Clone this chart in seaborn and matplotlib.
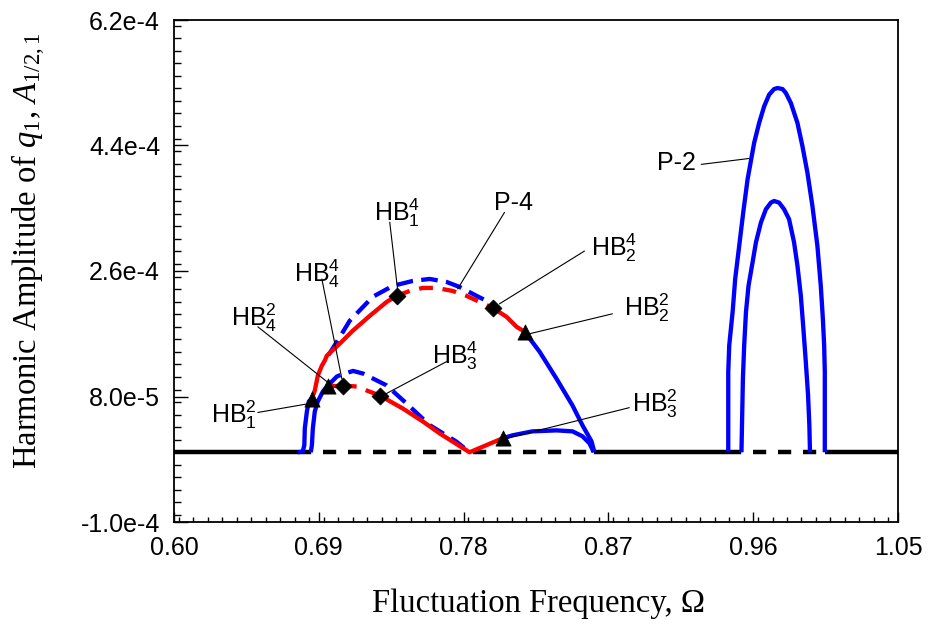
import numpy as np
import matplotlib
matplotlib.use("Agg")
import matplotlib.pyplot as plt
from matplotlib.ticker import MultipleLocator, FixedLocator
import seaborn as sns

# ---------------- data (y values in units of 1e-4) ----------------
x_ticks = [0.60, 0.69, 0.78, 0.87, 0.96, 1.05]
x_ticklabels = ["0.60", "0.69", "0.78", "0.87", "0.96", "1.05"]
y_ticks = [-1.0e-4, 0.8e-4, 2.6e-4, 4.4e-4, 6.2e-4]
y_ticklabels = ["-1.0e-4", "8.0e-5", "2.6e-4", "4.4e-4", "6.2e-4"]

# trivial solution (y = 0): solid / dashed pieces
base_solid = [(0.60, 0.6770), (0.8613, 0.9445), (1.0045, 1.05)]
base_dashed = [(0.6770, 0.8613), (0.9445, 1.0045)]

# P-4 outer blue leg (solid) up to HB1^2
p4_leg1_x = [0.6770, 0.6800, 0.6810, 0.6813, 0.6826, 0.6838, 0.6857]
p4_leg1_y = [0.0, 0.01, 0.10, 0.343, 0.586, 0.729, 0.771]
# upper red solid: HB1^2 -> HB1^4
red_up1_x = [0.6857, 0.6875, 0.6894, 0.6919, 0.6937, 0.6950, 0.7030, 0.7111, 0.7217, 0.7322, 0.7384]
red_up1_y = [0.771, 0.886, 1.100, 1.243, 1.314, 1.386, 1.557, 1.743, 1.957, 2.157, 2.243]
# upper red dashed: HB1^4 -> HB2^4
red_up2_x = [0.7384, 0.7465, 0.7546, 0.7632, 0.7732, 0.7819, 0.7899, 0.7980]
red_up2_y = [2.243, 2.314, 2.357, 2.357, 2.314, 2.243, 2.157, 2.071]
# upper red solid: HB2^4 -> HB2^2
red_up3_x = [0.7980, 0.8067, 0.8129, 0.8179]
red_up3_y = [2.071, 1.943, 1.800, 1.729]
# blue solid descending from HB2^2 to zero
blue_down_x = [0.8179, 0.8272, 0.8377, 0.8477, 0.8539, 0.8595, 0.8613]
blue_down_y = [1.729, 1.443, 1.057, 0.671, 0.386, 0.157, 0.0]
# upper blue dashed branch
blue_up_dash_x = [0.6962, 0.7030, 0.7092, 0.7235, 0.7359, 0.7483, 0.7589, 0.7694, 0.7775, 0.7881, 0.7943, 0.7980]
blue_up_dash_y = [1.400, 1.650, 1.886, 2.229, 2.386, 2.457, 2.486, 2.443, 2.371, 2.243, 2.171, 2.071]

# inner blue leg (solid) up to HB4^2
p4_leg2_x = [0.6850, 0.6857, 0.6863, 0.6875, 0.6894, 0.6925, 0.6956]
p4_leg2_y = [0.0, 0.10, 0.343, 0.586, 0.729, 0.871, 0.957]
# lower red solid HB4^2 -> HB4^4
red_lo1_x = [0.6956, 0.7049]
red_lo1_y = [0.957, 0.957]
# lower red dashed HB4^4 -> HB3^4
red_lo2_x = [0.7049, 0.7136, 0.7198, 0.7279]
red_lo2_y = [0.957, 0.943, 0.886, 0.814]
# lower red solid HB3^4 -> zero -> HB3^2
red_lo3_x = [0.7279, 0.7421, 0.7546, 0.7651, 0.7837, 0.8042]
red_lo3_y = [0.814, 0.629, 0.443, 0.271, 0.0, 0.200]
# lower blue dashed branch
blue_lo_dash_x = [0.6956, 0.7012, 0.7030, 0.7113, 0.7175, 0.7320, 0.7423, 0.7589, 0.7755, 0.7837]
blue_lo_dash_y = [0.957, 1.086, 1.104, 1.167, 1.129, 0.961, 0.747, 0.390, 0.153, 0.0]
# blue solid from HB3^2 to zero
blue_hb32_x = [0.8042, 0.8104, 0.8228, 0.8377, 0.8477, 0.8539, 0.8582, 0.8601, 0.8607]
blue_hb32_y = [0.200, 0.243, 0.300, 0.314, 0.300, 0.229, 0.129, 0.040, 0.0]

# P-2 arches
p2_outer_x = [0.9445, 0.9445, 0.9451, 0.9472, 0.9488, 0.9513, 0.9538, 0.9565, 0.9606, 0.9637,
              0.9668, 0.9699, 0.9730, 0.9751, 0.9782, 0.9803, 0.9834, 0.9875, 0.9906, 0.9937,
              0.9968, 0.9999, 1.0020, 1.0033, 1.0041, 1.0045, 1.0045]
p2_outer_y = [0.0, 1.153, 1.533, 2.010, 2.486, 2.961, 3.439, 3.914, 4.439, 4.724,
              4.961, 5.129, 5.210, 5.224, 5.210, 5.153, 5.010, 4.724, 4.390, 4.010,
              3.533, 2.961, 2.390, 1.914, 1.533, 1.153, 0.0]
p2_inner_x = [0.9527, 0.9532, 0.9536, 0.9544, 0.9555, 0.9571, 0.9596, 0.9617, 0.9648, 0.9679,
              0.9710, 0.9730, 0.9761, 0.9792, 0.9823, 0.9854, 0.9875, 0.9896, 0.9912, 0.9927,
              0.9941, 0.9949, 0.9953]
p2_inner_y = [0.0, 0.581, 1.057, 1.533, 2.010, 2.390, 2.724, 3.010, 3.296, 3.486,
              3.581, 3.604, 3.581, 3.486, 3.343, 3.010, 2.676, 2.247, 1.771, 1.296,
              0.819, 0.390, 0.0]

# bifurcation points
tri_x = [0.6857, 0.6956, 0.8179, 0.8042]
tri_y = [0.771, 0.957, 1.729, 0.200]
dia_x = [0.7384, 0.7980, 0.7049, 0.7279]
dia_y = [2.243, 2.071, 0.957, 0.814]

# annotations: label, text pos, ha, line start, line end
ann_labels = ["HB$_1^2$", "HB$_4^2$", "HB$_4^4$", "HB$_1^4$", "P-4", "HB$_2^4$",
              "HB$_2^2$", "HB$_3^2$", "HB$_3^4$", "P-2"]
ann_text_x = [0.6515, 0.6639, 0.7030, 0.7533, 0.7992, 0.8594, 0.8799, 0.8849, 0.7601, 0.9246]
ann_text_y = [0.543, 1.929, 2.557, 3.430, 3.580, 2.929, 2.071, 0.690, 1.386, 4.143]
ann_ha = ["right", "right", "right", "right", "left", "left", "left", "left", "left", "right"]
ann_from_x = [0.6521, 0.6521, 0.6919, 0.7341, 0.8054, 0.8551, 0.8725, 0.8830, 0.7694, 0.9277]
ann_from_y = [0.571, 1.800, 2.486, 3.300, 3.440, 2.886, 1.986, 0.640, 1.300, 4.129]
ann_to_x = [0.6844, 0.6950, 0.7043, 0.7390, 0.7763, 0.8023, 0.8210, 0.8067, 0.7297, 0.9575]
ann_to_y = [0.700, 1.014, 1.057, 2.329, 2.343, 2.129, 1.700, 0.200, 0.814, 4.214]

S = 1e-4

# ---------------- style ----------------
sns.set_theme(style="ticks")
plt.rcParams["font.family"] = ["Liberation Sans", "DejaVu Sans"]
plt.rcParams["mathtext.fontset"] = "custom"
plt.rcParams["mathtext.rm"] = "Liberation Sans"
plt.rcParams["mathtext.it"] = "Liberation Serif:italic"
plt.rcParams["mathtext.sf"] = "Liberation Serif"
plt.rcParams["lines.scale_dashes"] = False
plt.rcParams["lines.solid_capstyle"] = "butt"
plt.rcParams["lines.solid_joinstyle"] = "round"
plt.rcParams["lines.dash_joinstyle"] = "round"

fig = plt.figure(figsize=(9.32, 6.31), dpi=100)
ax = fig.add_axes([174 / 932, 1 - 522 / 631, 724 / 932, 502 / 631])

BLUE = "#0000FF"
RED = "#FF0000"
LW = 3.1
BLUE_DASH = (0, (12, 6))
RED_DASH = (0, (10, 7))
BLACK_DASH = (0, (9.5, 8.5))


def line(x, y, color, ls="-", lw=LW, z=2):
    sns.lineplot(x=np.asarray(x), y=np.asarray(y) * S, color=color, linewidth=lw,
                 linestyle=ls, sort=False, estimator=None, ax=ax, legend=False, zorder=z)


for a, b in base_solid:
    line([a, b], [0, 0], "black", "-", 3.2, 1)
for a, b in base_dashed:
    line([a, b], [0, 0], "black", BLACK_DASH, 3.2, 1)

line(p4_leg1_x, p4_leg1_y, BLUE)
line(p4_leg2_x, p4_leg2_y, BLUE)
line(blue_up_dash_x, blue_up_dash_y, BLUE, BLUE_DASH)
line(blue_lo_dash_x, blue_lo_dash_y, BLUE, BLUE_DASH)
line(blue_down_x, blue_down_y, BLUE)
line(blue_hb32_x, blue_hb32_y, BLUE)
line(red_up1_x, red_up1_y, RED, "-", LW, 3)
line(red_up2_x, red_up2_y, RED, RED_DASH, LW, 3)
line(red_up3_x, red_up3_y, RED, "-", LW, 3)
line(red_lo1_x, red_lo1_y, RED, "-", LW, 3)
line(red_lo2_x, red_lo2_y, RED, RED_DASH, LW, 3)
line(red_lo3_x, red_lo3_y, RED, "-", LW, 3)
line(p2_outer_x, p2_outer_y, BLUE)
line(p2_inner_x, p2_inner_y, BLUE)

sns.scatterplot(x=tri_x, y=np.asarray(tri_y) * S, marker="^", s=120, color="black",
                edgecolor="black", linewidth=0.5, ax=ax, zorder=6, legend=False)
sns.scatterplot(x=dia_x, y=np.asarray(dia_y) * S, marker="D", s=75, color="black",
                edgecolor="black", linewidth=0.5, ax=ax, zorder=6, legend=False)

for lab, tx, ty, ha, fx, fy, ex, ey in zip(ann_labels, ann_text_x, ann_text_y, ann_ha,
                                           ann_from_x, ann_from_y, ann_to_x, ann_to_y):
    ax.annotate("", xy=(ex, ey * S), xytext=(fx, fy * S),
                arrowprops=dict(arrowstyle="-", color="black", lw=0.8,
                                shrinkA=0, shrinkB=0), zorder=4)
    ax.text(tx, ty * S, lab, ha=ha, va="center", fontsize=18, color="black", zorder=7)

# ---------------- axes ----------------
ax.set_xlim(0.60, 1.05)
ax.set_ylim(-1.0e-4, 6.2e-4)
ax.xaxis.set_major_locator(FixedLocator(x_ticks))
ax.set_xticklabels(x_ticklabels)
ax.yaxis.set_major_locator(FixedLocator(y_ticks))
ax.set_yticklabels(y_ticklabels)
ax.xaxis.set_minor_locator(MultipleLocator(0.009))
ax.yaxis.set_minor_locator(MultipleLocator(1.8e-5))
ax.tick_params(axis="both", which="both", direction="in", colors="black",
               top=False, right=False, labelsize=18)
ax.tick_params(axis="y", which="major", length=10, width=1.0, pad=10)
ax.tick_params(axis="y", which="minor", length=5, width=1.0)
ax.tick_params(axis="x", which="major", length=7, width=1.0, pad=10)
ax.tick_params(axis="x", which="minor", length=3.5, width=1.0)
for sp in ax.spines.values():
    sp.set_visible(True)
    sp.set_color("black")
    sp.set_linewidth(1.3)
ax.grid(False)
ax.set_facecolor("white")
fig.patch.set_facecolor("white")

ax.set_xlabel("Fluctuation Frequency, Ω", family=["Liberation Serif", "DejaVu Serif"],
              fontsize=23.5, color="black")
ax.set_ylabel("Harmonic Amplitude of $q_\\mathsf{1}$, $A_\\mathsf{1/2,1}$",
              family=["Liberation Serif", "DejaVu Serif"], fontsize=23.5, color="black")
ax.xaxis.set_label_coords(0.5035, -0.133)
ax.yaxis.set_label_coords(-0.174, 0.54)

fig.savefig("out.png", dpi=100)
